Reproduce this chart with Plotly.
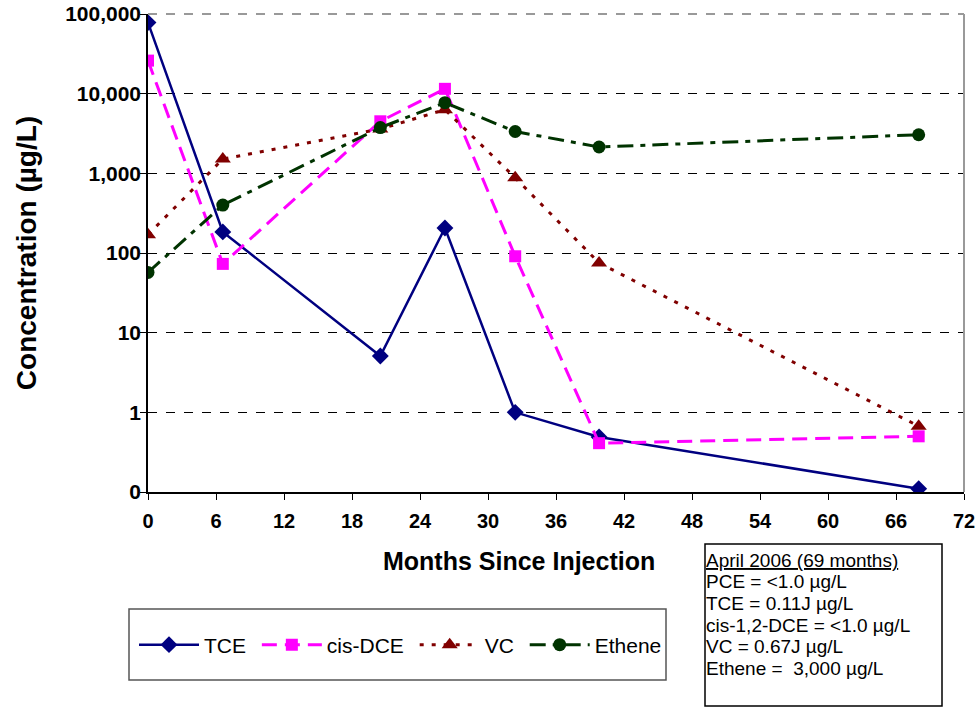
import plotly.graph_objects as go

# Data (months since injection, concentration in ug/L)
tce_x = [0, 6.6, 20.5, 26.2, 32.4, 39.8, 68]
tce_y = [78000, 184, 5.1, 206, 1.0, 0.49, 0.11]

dce_x = [0, 6.6, 20.5, 26.2, 32.4, 39.8, 68]
dce_y = [26000, 73, 4500, 11500, 91, 0.41, 0.5]

vc_x = [0, 6.6, 20.5, 26.2, 32.4, 39.8, 68]
vc_y = [170, 1510, 3600, 6300, 880, 75, 0.67]

eth_x = [0, 6.6, 20.5, 26.2, 32.4, 39.8, 68]
eth_y = [57, 400, 3750, 7700, 3350, 2140, 3050]

series_names = ["TCE", "cis-DCE", "VC", "Ethene"]

x_ticks = list(range(0, 73, 6))
y_tickvals = [0.1, 1, 10, 100, 1000, 10000, 100000]
y_ticktext = ["0", "1", "10", "100", "1,000", "10,000", "100,000"]

note_lines = [
    "<u>April 2006 (69 months)</u>",
    "PCE = <1.0 \u00b5g/L",
    "TCE = 0.11J \u00b5g/L",
    "cis-1,2-DCE = <1.0 \u00b5g/L",
    "VC = 0.67J \u00b5g/L",
    "Ethene =  3,000 \u00b5g/L",
]

FONT = "Liberation Sans, Arial, sans-serif"

# plot area in pixels (for converting layout positions to paper coords)
L, R, T, B = 148, 964, 14, 492
def px(xp):
    return (xp - L) / (R - L)
def py(yp):
    return (B - yp) / (B - T)

PAD = "\u00a0"  # small trailing gap in legend entries

fig = go.Figure()
fig.add_trace(go.Scatter(
    x=tce_x, y=tce_y, name=series_names[0] + PAD, mode="lines+markers",
    line=dict(color="#000080", width=2.5),
    marker=dict(symbol="diamond", size=13, color="#000080")))
fig.add_trace(go.Scatter(
    x=dce_x, y=dce_y, name=series_names[1] + PAD, mode="lines+markers",
    line=dict(color="#FF00FF", width=3, dash="15px,8px"),
    marker=dict(symbol="square", size=12, color="#FF00FF")))
fig.add_trace(go.Scatter(
    x=vc_x, y=vc_y, name=series_names[2] + PAD, mode="lines+markers",
    line=dict(color="#800000", width=3, dash="4px,8px"),
    marker=dict(symbol="triangle-up", size=14, color="#800000")))
fig.add_trace(go.Scatter(
    x=eth_x, y=eth_y, name=series_names[3], mode="lines+markers",
    line=dict(color="#003300", width=3, dash="16px,7px,5px,7px"),
    marker=dict(symbol="circle", size=13, color="#003300")))

fig.update_layout(
    width=979, height=709,
    margin=dict(l=L, r=979 - R, t=T, b=709 - B),
    paper_bgcolor="white", plot_bgcolor="white",
    font=dict(family=FONT, color="black"),
    showlegend=True,
    legend=dict(
        orientation="h", x=px(134), y=py(645), xanchor="left", yanchor="middle",
        borderwidth=0, bgcolor="rgba(0,0,0,0)",
        font=dict(size=21, family=FONT, color="black"),
        itemwidth=60,
    ),
    xaxis=dict(
        range=[0, 72], tickvals=x_ticks, ticks="outside", ticklen=6,
        tickcolor="black", showline=True, linecolor="black", linewidth=1.5,
        showgrid=False, zeroline=False, automargin=False, ticklabelstandoff=4,
        tickfont=dict(size=20, family=FONT, color="black", weight="bold"),
    ),
    yaxis=dict(
        type="log", range=[-1, 5], tickvals=y_tickvals, ticktext=y_ticktext,
        ticks="outside", ticklen=6, tickcolor="black",
        showline=True, linecolor="black", linewidth=1.5,
        showgrid=True, gridcolor="black", gridwidth=1, griddash="dash",
        zeroline=False, automargin=False, ticklabelstandoff=-5,
        tickfont=dict(size=21, family=FONT, color="black", weight="bold"),
        title=dict(text="Concentration (\u00b5g/L)", standoff=20,
                   font=dict(size=28, family=FONT, color="black", weight="bold")),
    ),
)

# right / top border of plot area
fig.add_shape(type="line", xref="paper", yref="paper", x0=1, x1=1, y0=0, y1=1,
              line=dict(color="#999999", width=2))
fig.add_shape(type="line", xref="paper", yref="paper", x0=0, x1=1, y0=1, y1=1,
              line=dict(color="#999999", width=2, dash="dash"))

# x-axis title (offset to the left like the original)
fig.add_annotation(
    xref="paper", yref="paper", x=px(519), y=py(561), xanchor="center", yanchor="middle",
    text="Months Since Injection", showarrow=False,
    font=dict(size=25, family=FONT, color="black", weight="bold"),
)

# legend frame
fig.add_shape(type="rect", xref="paper", yref="paper",
              x0=px(129), x1=px(666), y0=py(680), y1=py(609),
              line=dict(color="#555555", width=1.5))

# note box
fig.add_shape(type="rect", xref="paper", yref="paper",
              x0=px(705), x1=px(942), y0=py(706), y1=py(544),
              line=dict(color="black", width=1.5))
line_centers = [560, 581.7, 603.3, 625, 646.7, 668.3]
for txt, yc in zip(note_lines, line_centers):
    fig.add_annotation(
        xref="paper", yref="paper", x=px(704), y=py(yc), xanchor="left", yanchor="middle",
        text=txt, showarrow=False, align="left",
        font=dict(size=19, family=FONT, color="black"),
    )

fig.write_html(
    "out.html",
    config={"displayModeBar": False},
    post_script="document.body.style.margin='0';document.body.style.overflow='hidden';",
)
